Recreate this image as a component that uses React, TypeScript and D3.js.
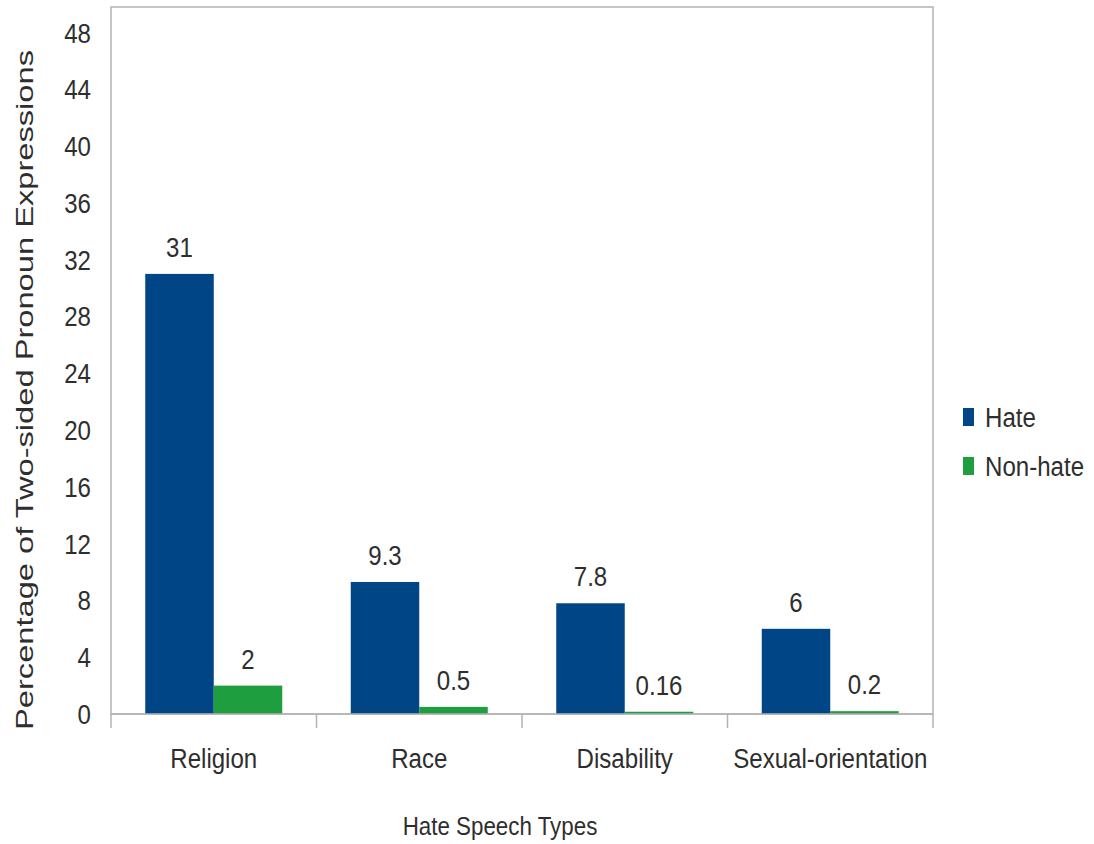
import React from "react";
import * as d3 from "d3";

const categories = ["Religion", "Race", "Disability", "Sexual-orientation"];
const hateValues = [31, 9.3, 7.8, 6];
const nonHateValues = [2, 0.5, 0.16, 0.2];
const valueLabelsHate = ["31", "9.3", "7.8", "6"];
const valueLabelsNonHate = ["2", "0.5", "0.16", "0.2"];
const yTicks = [0, 4, 8, 12, 16, 20, 24, 28, 32, 36, 40, 44, 48];
const seriesNames = ["Hate", "Non-hate"];
const seriesColors = ["#004586", "#1f9e40"];

const W = 1094;
const H = 844;
const plot = { left: 111, right: 933, top: 7, bottom: 714 };
const SX = 0.86;
const FONT = "'Liberation Sans', Arial, sans-serif";
const TEXT = "#2e2e2e";

function SText(props: { x: number; y: number; size: number; anchor?: string; children: React.ReactNode }) {
  const { x, y, size, anchor = "middle", children } = props;
  return (
    <g transform={`translate(${x},${y}) scale(${SX},1)`}>
      <text x={0} y={0} fontSize={size} fontFamily={FONT} fill={TEXT} textAnchor={anchor}>
        {children}
      </text>
    </g>
  );
}

export default function App() {
  const x0 = d3.scaleBand<string>().domain(categories).range([plot.left, plot.right]).paddingInner(0).paddingOuter(0);
  const x1 = d3.scaleBand<string>().domain(seriesNames).range([0, x0.bandwidth()]).paddingOuter(0.5).paddingInner(0);
  const y = d3.scaleLinear().domain([0, 49.8]).range([plot.bottom, plot.top]);

  const series = [hateValues, nonHateValues];
  const labels = [valueLabelsHate, valueLabelsNonHate];

  return (
    <svg width={W} height={H} style={{ position: "absolute", left: 0, top: 0, background: "#fff" }}>
      <rect x={0} y={0} width={W} height={H} fill="#fff" />
      {/* plot frame */}
      <rect x={plot.left} y={plot.top} width={plot.right - plot.left} height={plot.bottom - plot.top} fill="none" stroke="#b3b3b3" strokeWidth={1.5} />
      {/* bars */}
      {categories.map((c, i) =>
        series.map((vals, s) => {
          const bx = (x0(c) as number) + (x1(seriesNames[s]) as number);
          const by = y(vals[i]);
          return (
            <rect key={c + s} x={bx} y={by} width={x1.bandwidth()} height={plot.bottom - by} fill={seriesColors[s]} />
          );
        })
      )}
      {/* value labels */}
      {categories.map((c, i) =>
        series.map((vals, s) => {
          const bx = (x0(c) as number) + (x1(seriesNames[s]) as number) + x1.bandwidth() / 2;
          return (
            <SText key={"l" + c + s} x={bx} y={y(vals[i]) - 17} size={28}>
              {labels[s][i]}
            </SText>
          );
        })
      )}
      {/* x axis line */}
      <line x1={plot.left} x2={plot.right} y1={plot.bottom} y2={plot.bottom} stroke="#b3b3b3" strokeWidth={1.5} />
      {categories.map((c, i) => (
        <line key={"t" + i} x1={x0(c) as number} x2={x0(c) as number} y1={plot.bottom} y2={plot.bottom + 14} stroke="#b3b3b3" strokeWidth={1.5} />
      ))}
      <line x1={plot.right} x2={plot.right} y1={plot.bottom} y2={plot.bottom + 14} stroke="#b3b3b3" strokeWidth={1.5} />
      {/* category labels */}
      {categories.map((c) => (
        <SText key={"c" + c} x={(x0(c) as number) + x0.bandwidth() / 2} y={768} size={28}>
          {c}
        </SText>
      ))}
      {/* y tick labels */}
      {yTicks.map((t) => (
        <SText key={"y" + t} x={91} y={y(t) + 10} size={28} anchor="end">
          {t}
        </SText>
      ))}
      {/* axis titles */}
      <SText x={500} y={835} size={26}>
        Hate Speech Types
      </SText>
      <text
        transform={`translate(33,390) rotate(-90)`}
        x={0}
        y={0}
        fontSize={24}
        fontFamily={FONT}
        fill={TEXT}
        textAnchor="middle"
        textLength={680}
        lengthAdjust="spacingAndGlyphs"
      >
        Percentage of Two-sided Pronoun Expressions
      </text>
      {/* legend */}
      {seriesNames.map((n, i) => (
        <g key={"lg" + n}>
          <rect x={963} y={408 + i * 49} width={11} height={18} fill={seriesColors[i]} />
          <SText x={985} y={427 + i * 49} size={28} anchor="start">
            {n}
          </SText>
        </g>
      ))}
    </svg>
  );
}
